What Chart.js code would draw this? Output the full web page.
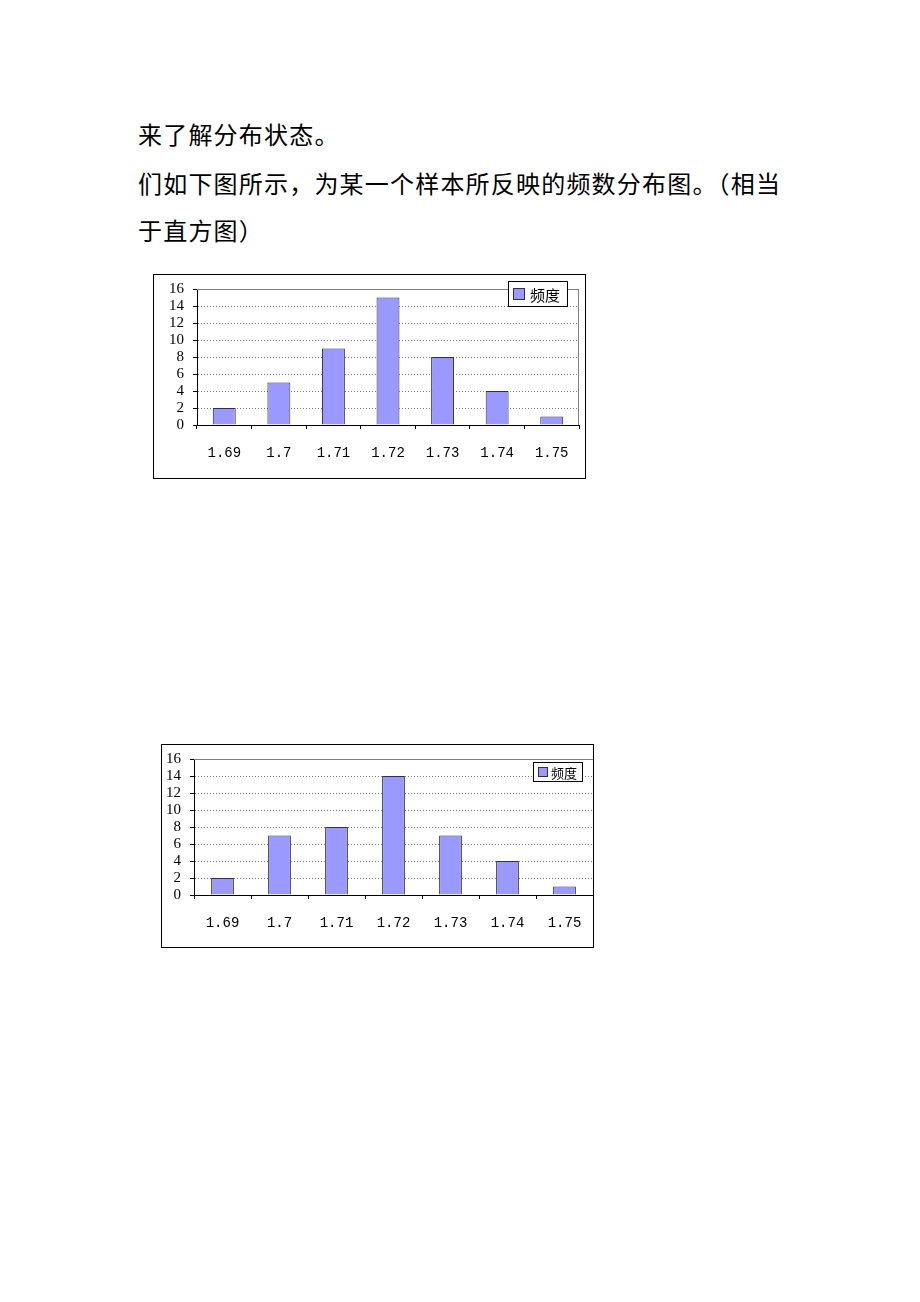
<!DOCTYPE html>
<html>
<head>
<meta charset="utf-8">
<script src="https://cdn.jsdelivr.net/npm/chart.js@4.4.0/dist/chart.umd.min.js"></script>
<style>
body { margin: 0; background: #fff; width: 920px; height: 1302px; position: relative; font-family: "Noto Sans CJK SC", sans-serif; }
.txt { position: absolute; left: 138px; font-size: 24px; line-height: 26px; letter-spacing: 1.2px; color: #000; white-space: nowrap; }
.box { position: absolute; border: 1px solid #000; background: #fff; }
.box canvas { display: block; }
</style>
</head>
<body>
<div class="txt" style="top:121px">来了解分布状态。</div>
<div class="txt" style="top:170px">们如下图所示，为某一个样本所反映的频数分布图。（相当</div>
<div class="txt" style="top:217px">于直方图）</div>

<div class="box" style="left:153px;top:274px;width:431px;height:203px"><canvas id="chartTop" width="431" height="203"></canvas></div>
<div class="box" style="left:161px;top:744px;width:431px;height:202px"><canvas id="chartBottom" width="431" height="202"></canvas></div>

<script>
"use strict";

// data
const categories = ['1.69', '1.7', '1.71', '1.72', '1.73', '1.74', '1.75'];
const freqTop = [2, 5, 9, 15, 8, 4, 1];
const freqBottom = [2, 7, 8, 14, 7, 4, 1];
const seriesName = '频度';
const yMin = 0;
const yMax = 16;
const yStep = 2;

// boxed legend + plot frame, drawn after the bars
const boxLegend = {
    id: 'boxLegend',
    afterDraw(chart, args, o) {
        const {ctx, chartArea} = chart;
        const ds = chart.data.datasets[0];

        ctx.save();
        ctx.strokeStyle = '#808080';
        ctx.lineWidth = 1;
        ctx.beginPath();
        ctx.moveTo(chartArea.left, chartArea.top + 0.5);
        ctx.lineTo(chartArea.right, chartArea.top + 0.5);
        if (o.rightFrame) {
            ctx.moveTo(chartArea.right - 0.5, chartArea.top);
            ctx.lineTo(chartArea.right - 0.5, chartArea.bottom);
        }
        ctx.stroke();

        const x = Math.round(chartArea.right - o.right - o.w);
        const y = Math.round(chartArea.top + o.top);
        ctx.fillStyle = '#fff';
        ctx.fillRect(x, y, o.w, o.h);
        ctx.strokeStyle = '#000';
        ctx.strokeRect(x + 0.5, y + 0.5, o.w - 1, o.h - 1);

        const sy = y + Math.round((o.h - o.swatch) / 2);
        ctx.fillStyle = ds.backgroundColor;
        ctx.fillRect(x + o.swatchX, sy, o.swatch, o.swatch);
        ctx.strokeStyle = ds.borderColor;
        ctx.strokeRect(x + o.swatchX + 0.5, sy + 0.5, o.swatch - 1, o.swatch - 1);

        ctx.fillStyle = '#000';
        ctx.font = o.fontSize + 'px "Noto Sans CJK SC"';
        ctx.textBaseline = 'middle';
        ctx.fillText(ds.label, x + o.textX, y + o.h / 2 + 1);
        ctx.restore();
    }
};

function makeChart(id, values, cfg) {
    return new Chart(document.getElementById(id), {
        type: 'bar',
        data: {
            labels: categories,
            datasets: [{
                label: seriesName,
                data: values,
                backgroundColor: '#9999FF',
                borderColor: '#333333',
                borderWidth: 1,
                categoryPercentage: 1,
                barPercentage: cfg.barPct
            }]
        },
        options: {
            responsive: false,
            animation: false,
            layout: {padding: {left: 0, right: cfg.padRight, top: cfg.padTop, bottom: 0}},
            plugins: {
                legend: {display: false},
                tooltip: {enabled: false},
                boxLegend: cfg.legend
            },
            scales: {
                x: {
                    afterFit: (s) => { s.height = cfg.xHeight; s.paddingLeft = 0; s.paddingRight = 0; },
                    grid: {drawOnChartArea: false, drawTicks: true, tickLength: 4, tickColor: '#000', offset: true},
                    border: {color: '#000', width: 1},
                    ticks: {color: '#000', padding: 16, maxRotation: 0, autoSkip: false,
                        font: {family: 'Liberation Mono', size: 14}}
                },
                y: {
                    min: yMin,
                    max: yMax,
                    afterFit: (s) => { s.width = cfg.yWidth; s.paddingTop = 0; s.paddingBottom = 0; },
                    grid: {
                        color: (c) => (c.tick && (c.tick.value === yMin || c.tick.value === yMax)) ? 'rgba(0,0,0,0)' : '#808080',
                        lineWidth: 1,
                        drawTicks: true,
                        tickLength: 4,
                        tickColor: '#000'
                    },
                    border: {color: '#000', width: 1, dash: [1, 2]},
                    ticks: {stepSize: yStep, autoSkip: false, color: '#000', padding: 9,
                        font: {family: 'Liberation Serif', size: 15, lineHeight: 1}}
                }
            }
        },
        plugins: [boxLegend]
    });
}

makeChart('chartTop', freqTop, {
    barPct: 0.42, padRight: 6, padTop: 14, yWidth: 43, xHeight: 53,
    legend: {w: 60, h: 26, right: 11, top: -8, swatch: 12, swatchX: 5, textX: 22, fontSize: 15, rightFrame: true}
});

makeChart('chartBottom', freqBottom, {
    barPct: 0.40, padRight: 0, padTop: 14, yWidth: 32, xHeight: 52,
    legend: {w: 50, h: 20, right: 10, top: 3, swatch: 10, swatchX: 5, textX: 18, fontSize: 13, rightFrame: false}
});
</script>
</body>
</html>
